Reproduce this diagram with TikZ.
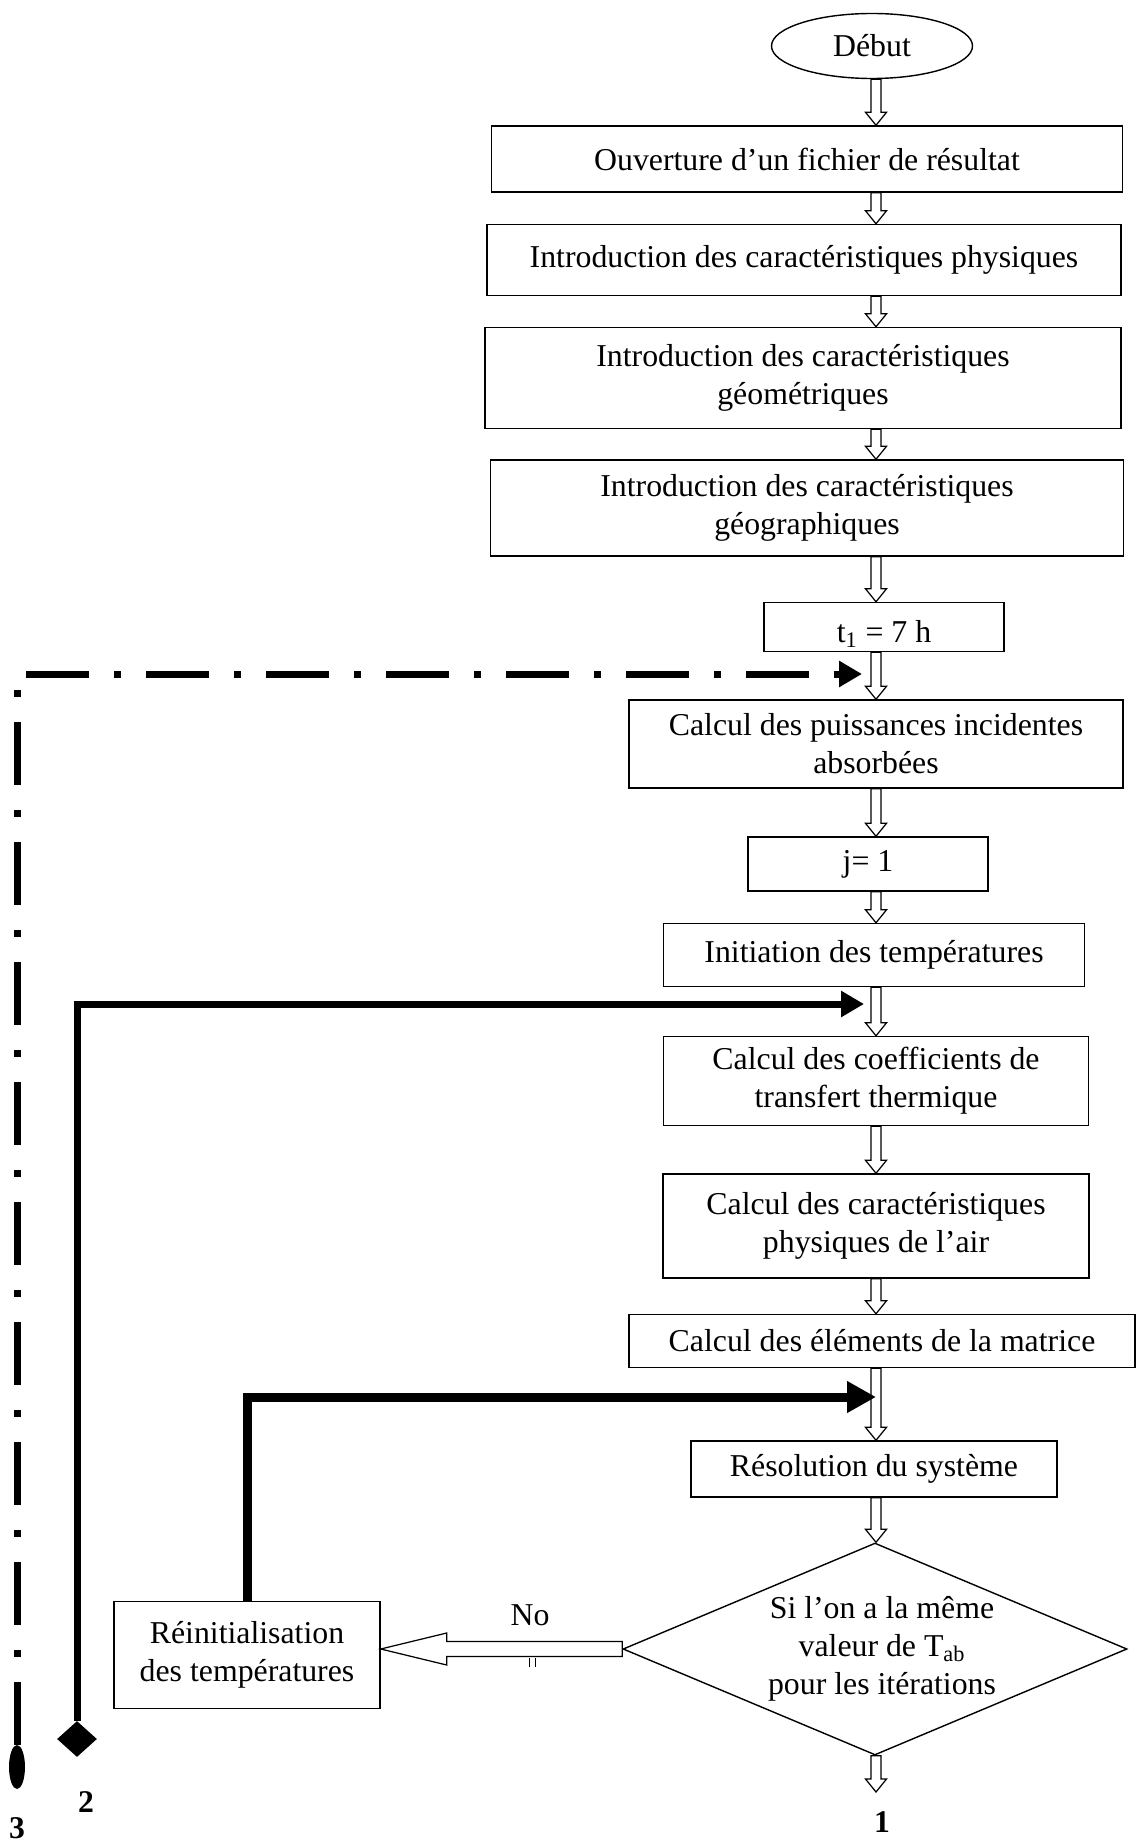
\documentclass[tikz,border=0pt]{standalone}
\usepackage{fontspec}
\setmainfont{Liberation Serif}
\usetikzlibrary{shapes.geometric}
\usetikzlibrary{arrows,arrows.meta}
\usetikzlibrary{calc}

\tikzset{
    box/.style={draw, line width=0.8pt, inner sep=0pt, align=center},
    boxsize/.style n args={2}{minimum width=#1*0.2mm, minimum height=#2*0.2mm},
    hollow/.style={draw, fill=white, line width=0.7pt, line join=miter},
    loopline/.style={line width=1.4mm, line join=miter, -{Triangle[length=4.6mm, width=5mm]}},
    num/.style={font=\fontsize{18}{20}\selectfont\bfseries}
}

% hollow block arrow going down the main column
\newcommand{\flowdown}[2]{%
  \draw[hollow] ($(#1 -| col)+(-5,0)$) -- ($(#2 -| col)+(-5,-13)$)
    -- ($(#2 -| col)+(-10.5,-13)$) -- (#2 -| col) -- ($(#2 -| col)+(10.5,-13)$)
    -- ($(#2 -| col)+(5,-13)$) -- ($(#1 -| col)+(5,0)$) -- cycle;}

\begin{document}
\begin{tikzpicture}[x=0.2mm, y=-0.2mm, font=\fontsize{18.1}{21.7}\selectfont]

    \useasboundingbox (0,0) rectangle (1136,1843);

    \coordinate (col) at (876,0);

    \node[box, ellipse, boxsize={201}{65}] (debut) at (872,46) {Début};
    \node[box, boxsize={631}{66}] (ouv) at (807,159) {Ouverture d’un fichier de résultat};
    \node[box, boxsize={634}{71}] (phys) at (804,260) {Introduction des caractéristiques physiques};
    \node[box, boxsize={636}{101}] (geom) at (803,378) {Introduction des caractéristiques\\géométriques};
    \node[box, boxsize={633}{96}] (geog) at (807,508) {Introduction des caractéristiques\\géographiques};
    \node[box, boxsize={240}{49}, text height=18pt, text depth=0pt] (tun) at (884,627) {t\textsubscript{1} = 7 h};
    \node[box, boxsize={494}{88}] (puiss) at (876,744) {Calcul des puissances incidentes\\absorbées};
    \node[box, boxsize={240}{54}] (jun) at (868,864) {j= 1};
    \node[box, boxsize={421}{63}] (init) at (874,955) {Initiation des températures};
    \node[box, boxsize={425}{89}] (coef) at (876,1081) {Calcul des coefficients de\\transfert thermique};
    \node[box, boxsize={426}{104}] (air) at (876,1226) {Calcul des caractéristiques\\physiques de l’air};
    \node[box, boxsize={506}{53}] (mat) at (882,1341) {Calcul des éléments de la matrice};
    \node[box, boxsize={366}{56}] (reso) at (874,1469) {Résolution du système};

    % test on T_ab
    \node[box, diamond, boxsize={504}{212}] (test) at (875,1649) {};
    \node[align=center] (testtxt) at (882,1649) {Si l’on a la même\\valeur de T\textsubscript{ab}\\pour les itérations};

    \node[box, boxsize={266}{107}] (reinit) at (247,1655) {Réinitialisation\\des températures};
    \node (no) at (530,1615) {No};

    % loop ends
    \node[fill, ellipse, inner sep=0pt, boxsize={16}{44}] (m3) at (17,1767) {};
    \node[fill, diamond, inner sep=0pt, boxsize={40}{36}] (m2) at (77,1739) {};
    \node[num] (n3) at (17,1828) {3};
    \node[num] (n2) at (86,1802) {2};
    \node[num] (n1) at (882,1822) {1};

    \coordinate (fin) at (875,1792);
    \coordinate (in3) at (862,674);
    \coordinate (in2) at (864,1004);
    \coordinate (in1) at (876,1397);
    \coordinate (noend) at (reinit.east |- test.west);

    \flowdown{debut.south}{ouv.north}
    \flowdown{ouv.south}{phys.north}
    \flowdown{phys.south}{geom.north}
    \flowdown{geom.south}{geog.north}
    \flowdown{geog.south}{tun.north}
    \flowdown{tun.south}{puiss.north}
    \flowdown{puiss.south}{jun.north}
    \flowdown{jun.south}{init.north}
    \flowdown{init.south}{coef.north}
    \flowdown{coef.south}{air.north}
    \flowdown{air.south}{mat.north}
    \flowdown{mat.south}{reso.north}
    \flowdown{reso.south}{test.north}
    \flowdown{test.south}{fin}

    % "No" branch
    \draw[hollow] ($(test.west)+(0,-7.5)$) -- ($(noend)+(66,-7.5)$) -- ($(noend)+(66,-16)$)
        -- (noend) -- ($(noend)+(66,16)$) -- ($(noend)+(66,7.5)$) -- ($(test.west)+(0,7.5)$) -- cycle;
    \draw[line width=0.5pt] (529,1658) -- (529,1667) (535,1658) -- (535,1667);

    % return loops
    \draw[loopline, dash pattern=on 12.6mm off 5mm on 1.4mm off 5mm] (m3.north) |- (in3);
    \draw[loopline] (m2.north) |- (in2);
    \draw[loopline, line width=1.8mm, -{Triangle[length=5.8mm, width=6mm]}] (reinit.north) |- (in1);

\end{tikzpicture}
\end{document}
